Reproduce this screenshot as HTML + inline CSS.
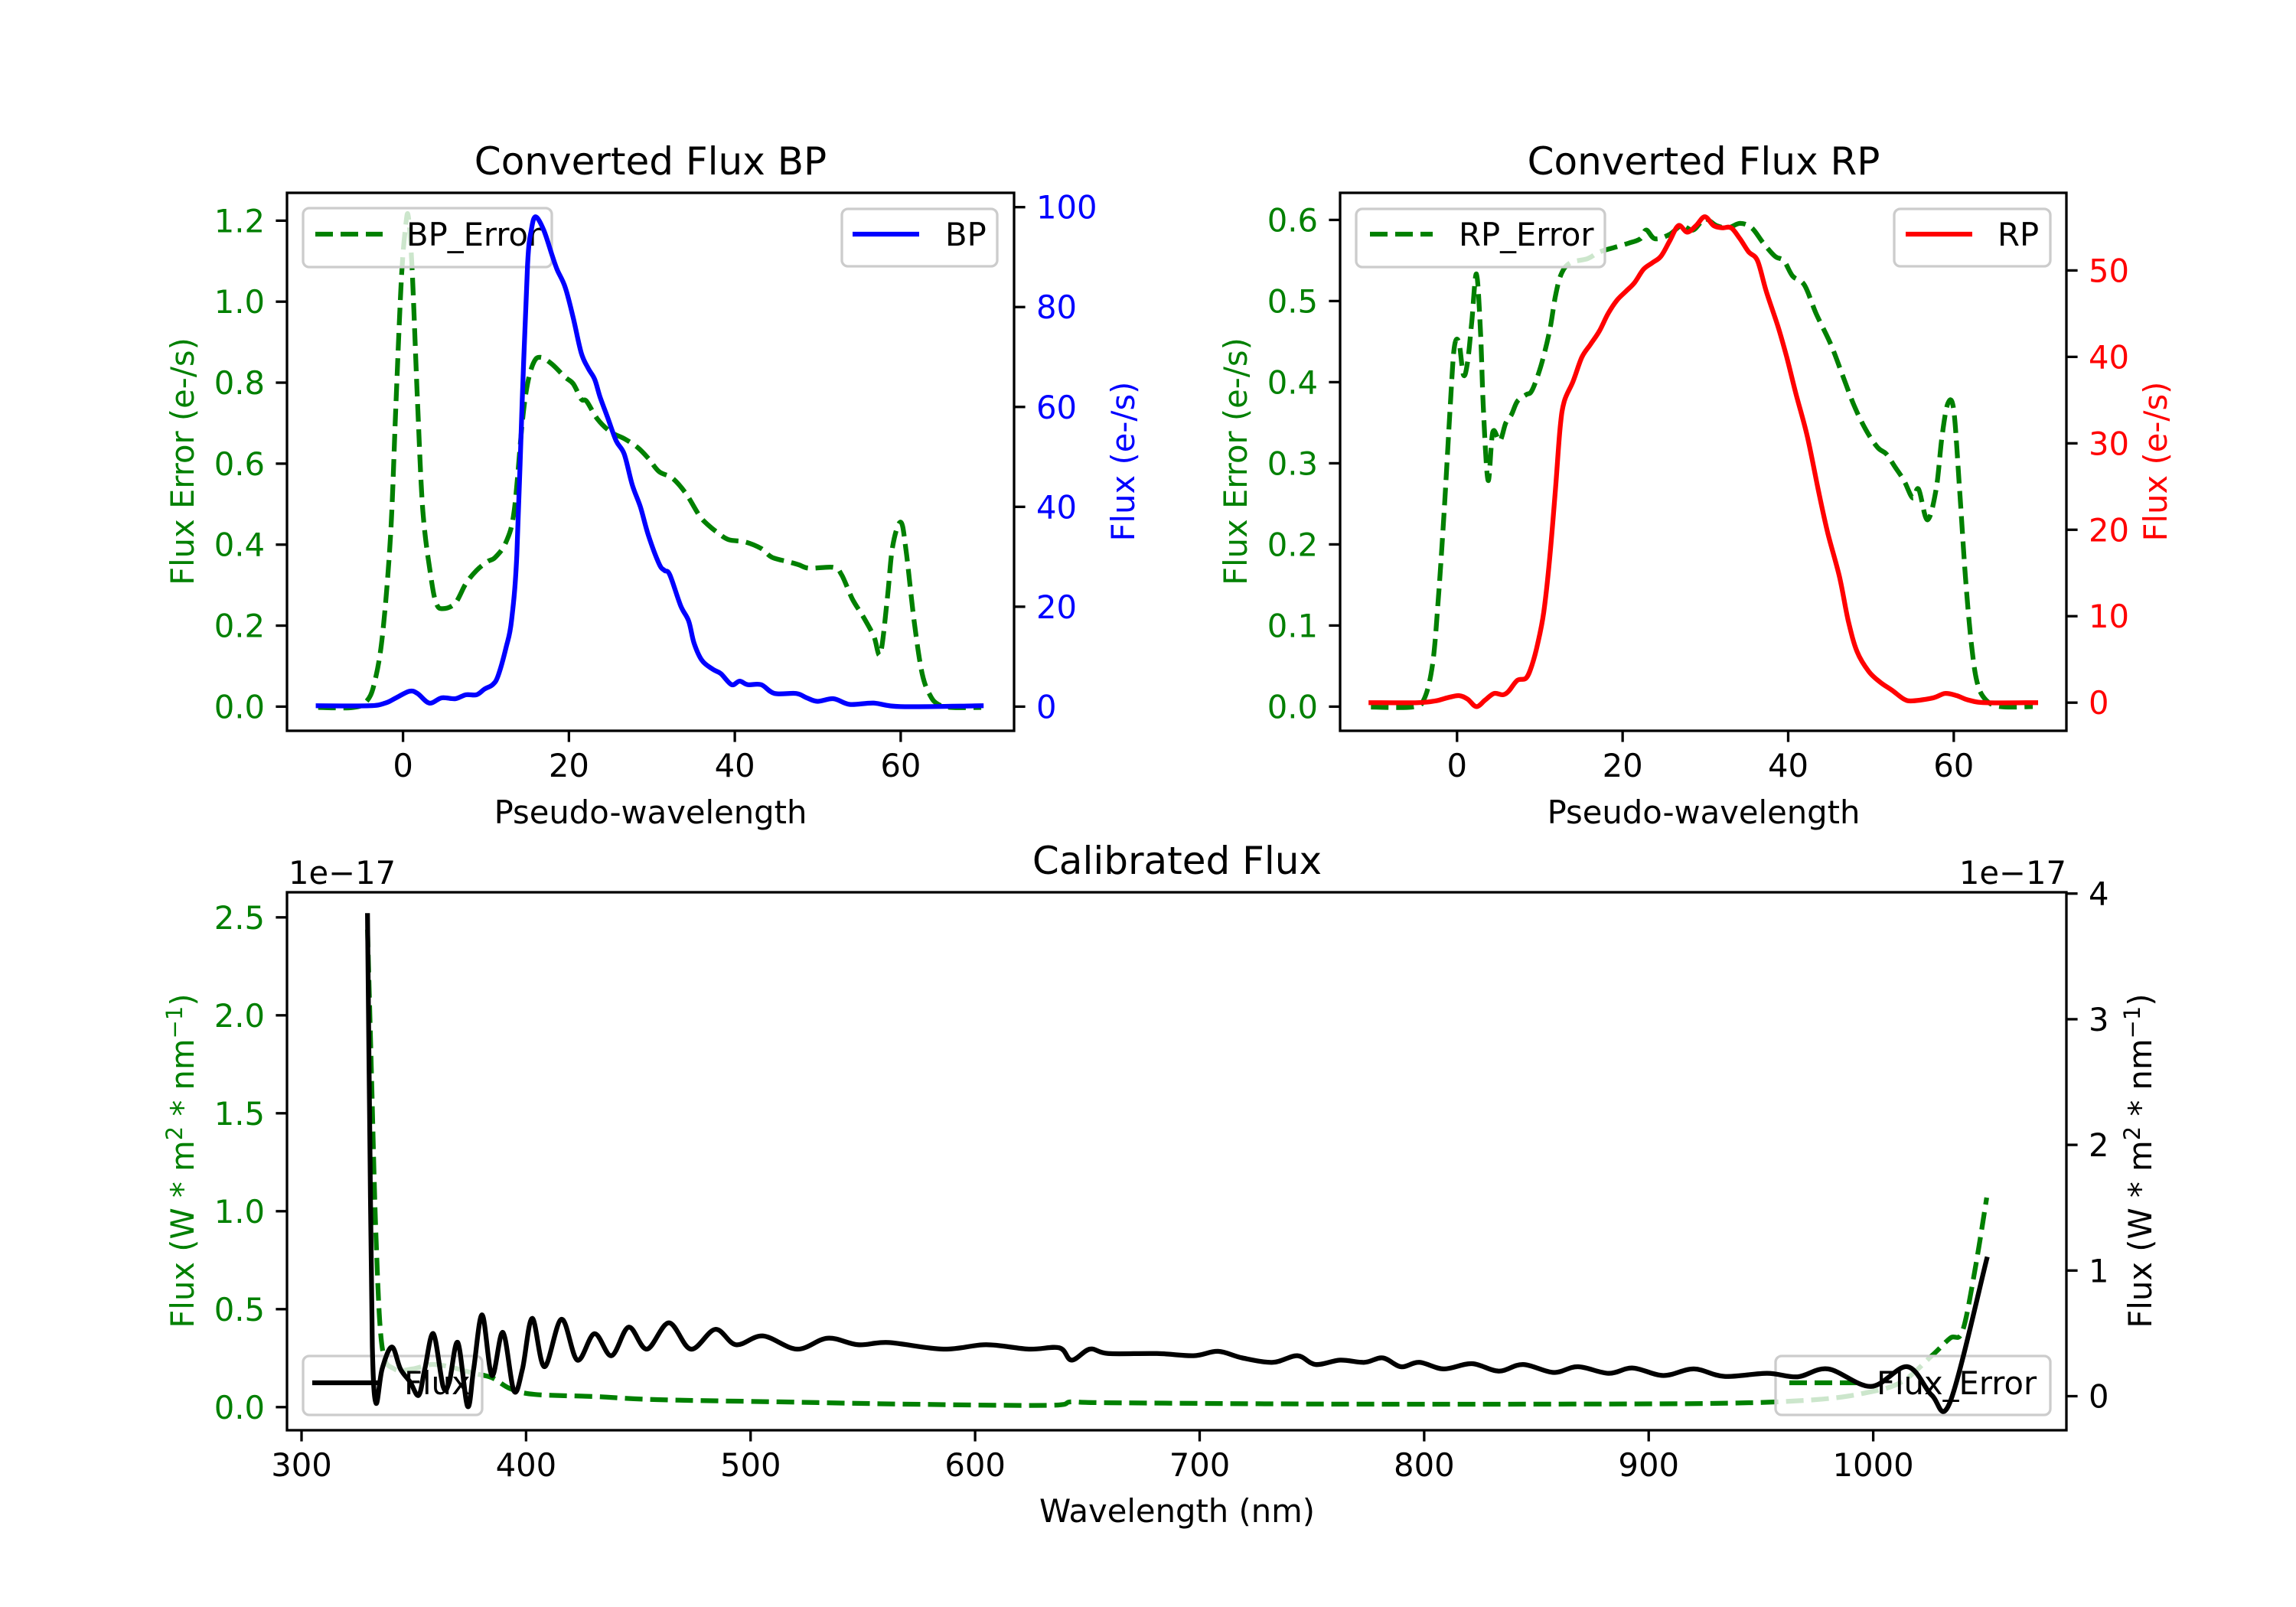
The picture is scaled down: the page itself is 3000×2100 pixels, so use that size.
<!DOCTYPE html>
<html><head><meta charset="utf-8">
<style>
html,body{margin:0;padding:0;background:#fff;}
svg{display:block;}
text{font-family:"DejaVu Sans","Liberation Sans",sans-serif;}
</style></head>
<body>
<svg id="s" width="3000" height="2100" viewBox="0 0 3000 2100" xmlns="http://www.w3.org/2000/svg"></svg>
<script>
const S=document.getElementById('s');
let out='';
function P(pts,fx,fy){
 const q=pts.map(p=>[fx(p[0]),fy(p[1])]);
 let d='M'+q[0][0].toFixed(1)+' '+q[0][1].toFixed(1);
 for(let i=0;i<q.length-1;i++){
  const p0=q[Math.max(0,i-1)],p1=q[i],p2=q[i+1],p3=q[Math.min(q.length-1,i+2)];
  const t=6;
  const c1=[p1[0]+(p2[0]-p0[0])/t,p1[1]+(p2[1]-p0[1])/t];
  const c2=[p2[0]-(p3[0]-p1[0])/t,p2[1]-(p3[1]-p1[1])/t];
  d+=` C${c1[0].toFixed(1)} ${c1[1].toFixed(1)} ${c2[0].toFixed(1)} ${c2[1].toFixed(1)} ${p2[0].toFixed(1)} ${p2[1].toFixed(1)}`;
 }
 return d;
}
function line(d,col,dash){out+=`<path d="${d}" fill="none" stroke="${col}" stroke-width="6.25" stroke-linejoin="round" stroke-linecap="${dash?'butt':'square'}" ${dash?'stroke-dasharray="23 10"':''}/>`;}
function txt(x,y,s,col,size,anchor,extra){out+=`<text x="${x}" y="${y}" fill="${col}" font-size="${size}" text-anchor="${anchor||'start'}" ${extra||''}>${s}</text>`;}
function legend(x1,y1,x2,y2,l1,l2,ly,col,dash,tx,label){
 out+=`<rect x="${x1}" y="${y1}" width="${x2-x1}" height="${y2-y1}" rx="8" fill="rgba(255,255,255,0.8)" stroke="#cccccc" stroke-width="3.3"/>`;
 out+=`<path d="M${l1} ${ly} L${l2} ${ly}" fill="none" stroke="${col}" stroke-width="6.25" ${dash?'stroke-dasharray="23 10"':''}/>`;
 txt(tx,ly+15,label,'#000',41.7);
}
function ticksX(vals,fx,yb,lab){vals.forEach(v=>{const x=fx(v);out+=`<line x1="${x}" y1="${yb}" x2="${x}" y2="${yb+14.6}" stroke="#000" stroke-width="3.3"/>`;txt(x,yb+60,lab(v),'#000',41.7,'middle');});}
function ticksY(vals,fy,x,side,col,lab){vals.forEach(v=>{const y=fy(v);const x2=side<0?x-14.6:x+14.6;out+=`<line x1="${x}" y1="${y}" x2="${x2}" y2="${y}" stroke="#000" stroke-width="3.3"/>`;txt(side<0?x-29:x+29,y+15,lab(v),col,41.7,side<0?'end':'start');});}
function frame(l,t,r,b){out+=`<rect x="${l}" y="${t}" width="${r-l}" height="${b-t}" fill="none" stroke="#000" stroke-width="3.3"/>`;}
function rl(x,y,s,col){out+=`<text x="${x}" y="${y}" fill="${col}" font-size="41.7" text-anchor="middle" transform="rotate(-90 ${x} ${y})">${s}</text>`;}

out+=`<defs><clipPath id="c1"><rect x="375" y="252" width="950" height="703"/></clipPath><clipPath id="c2"><rect x="1751" y="252" width="949" height="703"/></clipPath><clipPath id="c3"><rect x="375" y="1166" width="2325" height="703"/></clipPath></defs>`;
// ===== BP =====
{const fx=z=>300+z/1.4255, fy=z=>180+z/1.742;
const L=375,R=1325,T=252,B=955;
const g=[[165,1297],[230,1297],[255,1283],[270,1240],[285,1130],[300,900],[310,600],[320,320],[328,200],[333,180],[340,300],[350,600],[360,850],[375,1000],[385,1060],[397,1072],[420,1060],[440,1015],[460,985],[480,965],[495,955],[515,920],[530,850],[545,650],[555,560],[567,510],[580,500],[600,515],[625,545],[640,560],[655,595],[665,600],[685,640],[710,670],[735,685],[760,705],[780,730],[800,760],[825,775],[850,810],[875,860],[890,880],[910,900],[930,915],[960,920],[990,935],[1010,955],[1040,965],[1060,972],[1080,980],[1125,978],[1140,995],[1160,1050],[1180,1090],[1200,1135],[1212,1175],[1225,1050],[1235,930],[1250,875],[1260,940],[1275,1100],[1290,1220],[1305,1270],[1320,1290],[1345,1297],[1400,1297]];
const b=[[165,1293],[260,1293],[290,1287],[310,1275],[335,1260],[350,1265],[372,1287],[395,1275],[420,1277],[440,1268],[460,1268],[475,1255],[490,1245],[500,1225],[515,1160],[525,1100],[535,950],[545,600],[555,290],[562,210],[570,180],[585,210],[600,265],[610,300],[625,340],[640,410],[655,490],[668,525],[680,550],[690,590],[705,640],[720,690],[735,720],[750,790],[765,840],[780,905],[800,970],[810,985],[820,995],[840,1065],[855,1100],[865,1150],[880,1190],[900,1210],[915,1220],[935,1245],[950,1237],[965,1245],[990,1245],[1015,1265],[1055,1265],[1075,1275],[1095,1283],[1125,1277],[1155,1290],[1200,1287],[1250,1295],[1400,1293]];
out+=`<g clip-path="url(#c1)">`;line(P(g,fx,fy),'#008000',1);out+=`</g>`;
legend(396,272,721,349,412,500,306,'#008000',1,531,'BP_Error');
out+=`<g clip-path="url(#c1)">`;line(P(b,fx,fy),'#0000ff',0);out+=`</g>`;
legend(1100,273,1303,348,1114,1201,306,'#0000ff',0,1235,'BP');
frame(L,T,R,B);
ticksX([0,20,40,60],v=>526.6+10.838*v,B,v=>v);
ticksY([0,0.2,0.4,0.6,0.8,1.0,1.2],v=>923.4-529.2*v,L,-1,'#008000',v=>v.toFixed(1));
ticksY([0,20,40,60,80,100],v=>923.4-6.527*v,R,1,'#0000ff',v=>v);
txt(850,228,'Converted Flux BP','#000',50,'middle');
txt(850,1076,'Pseudo-wavelength','#000',41.7,'middle');
rl(253,603,'Flux Error (e-/s)','#008000');
rl(1482,603,'Flux (e-/s)','#0000ff');
}
// ===== RP =====
{const fx=z=>1600+z/1.3067, fy=z=>180+z/1.742;
const L=1751,R=2700,T=252,B=955;
const g=[[250,1296],[320,1296],[340,1280],[355,1200],[365,1050],[375,850],[385,620],[392,480],[400,465],[408,540],[415,510],[422,420],[430,310],[437,440],[442,620],[450,780],[458,670],[470,690],[480,650],[490,630],[500,600],[515,585],[525,575],[540,520],[555,440],[565,360],[575,310],[590,285],[620,275],[640,260],[665,250],[690,240],[710,230],[720,210],[735,230],[760,220],[780,200],[800,210],[820,185],[840,200],[860,205],[880,195],[900,205],[920,240],[940,270],[955,280],[970,315],[990,335],[1010,400],[1035,470],[1055,540],[1075,610],[1095,665],[1115,705],[1130,720],[1145,750],[1160,780],[1175,820],[1185,800],[1200,870],[1215,800],[1225,680],[1235,605],[1245,620],[1255,800],[1265,1000],[1275,1150],[1285,1240],[1300,1280],[1325,1295],[1380,1295]];
const r=[[250,1286],[330,1286],[360,1282],[380,1275],[400,1270],[415,1278],[430,1295],[445,1280],[460,1265],[475,1268],[485,1260],[500,1235],[515,1230],[525,1200],[535,1150],[545,1080],[555,960],[565,800],[573,660],[580,600],[595,555],[610,500],[625,470],[640,440],[655,400],[670,370],[685,350],[700,330],[715,300],[730,285],[745,270],[760,235],[775,200],[790,215],[805,200],[820,180],[835,200],[850,205],[865,205],[880,230],[895,260],[910,280],[925,350],[945,430],[960,500],[975,580],[995,680],[1015,810],[1030,900],[1050,1000],[1065,1100],[1080,1170],[1100,1215],[1120,1240],[1140,1258],[1160,1278],[1175,1282],[1210,1275],[1230,1265],[1250,1270],[1270,1280],[1300,1286],[1385,1286]];
out+=`<g clip-path="url(#c2)">`;line(P(g,fx,fy),'#008000',1);out+=`</g>`;
legend(1772,273,2097,349,1790,1872,306,'#008000',1,1906,'RP_Error');
out+=`<g clip-path="url(#c2)">`;line(P(r,fx,fy),'#ff0000',0);out+=`</g>`;
legend(2475,273,2679,348,2490,2577,306,'#ff0000',0,2610,'RP');
frame(L,T,R,B);
ticksX([0,20,40,60],v=>1903.8+10.817*v,B,v=>v);
ticksY([0,0.1,0.2,0.3,0.4,0.5,0.6],v=>923.4-1060*v,L,-1,'#008000',v=>v.toFixed(1));
ticksY([0,10,20,30,40,50],v=>918.2-11.296*v,R,1,'#ff0000',v=>v);
txt(2226,228,'Converted Flux RP','#000',50,'middle');
txt(2226,1076,'Pseudo-wavelength','#000',41.7,'middle');
rl(1629,603,'Flux Error (e-/s)','#008000');
rl(2831,603,'Flux (e-/s)','#ff0000');
}
// ===== Calibrated =====
{const fx=z=>300+z/0.6272, fy=z=>1100+z/1.742;
const L=375,R=2700,T=1166,B=1869;
const g=[[113,200],[116,500],[120,900],[125,1150],[135,1200],[150,1200],[165,1190],[180,1195],[200,1210],[215,1220],[230,1245],[250,1258],[300,1263],[350,1270],[450,1275],[550,1280],[670,1283],[690,1275],[720,1277],[900,1280],[1100,1280],[1230,1278],[1300,1270],[1340,1255],[1370,1230],[1395,1170],[1410,1130],[1420,1115],[1430,980],[1440,810]];
const k=[[113,168],[115,700],[117,1150],[120,1278],[125,1200],[133,1150],[140,1200],[148,1230],[155,1260],[160,1200],[167,1120],[175,1240],[180,1230],[187,1140],[195,1285],[200,1200],[207,1077],[215,1215],[224,1117],[233,1250],[240,1200],[248,1085],[258,1195],[272,1087],[285,1180],[299,1120],[313,1170],[327,1105],[342,1155],[360,1095],[378,1155],[398,1110],[415,1145],[437,1125],[465,1155],[490,1130],[515,1145],[540,1140],[585,1155],[620,1145],[655,1155],[680,1152],[690,1180],[705,1155],[720,1165],[760,1165],[790,1170],[810,1160],[830,1175],[855,1185],[875,1170],[890,1190],[910,1180],[930,1185],[945,1175],[960,1195],[975,1185],[995,1200],[1018,1188],[1040,1205],[1060,1190],[1085,1208],[1105,1195],[1130,1210],[1150,1198],[1175,1215],[1200,1200],[1225,1217],[1260,1210],[1285,1218],[1310,1200],[1345,1240],[1375,1195],[1395,1260],[1410,1275],[1440,950]];
out+=`<g clip-path="url(#c3)">`;line(P(g,fx,fy),'#008000',1);out+=`</g>`;
legend(396,1772,630,1849,408,499,1807,'#000',0,528,'Flux');
legend(2320,1772,2679,1849,2338,2428,1807,'#008000',1,2452,'Flux_Error');
out+=`<g clip-path="url(#c3)">`;line(P(k,fx,fy),'#000',0);out+=`</g>`;
frame(L,T,R,B);
ticksX([300,400,500,600,700,800,900,1000],v=>394+2.9337*(v-300),B,v=>v);
ticksY([0,0.5,1.0,1.5,2.0,2.5],v=>1838.8-256*v,L,-1,'#008000',v=>v.toFixed(1));
ticksY([0,1,2,3,4],v=>1824.5-164.2*v,R,1,'#000',v=>v);
txt(1538,1142,'Calibrated Flux','#000',50,'middle');
txt(1538,1989,'Wavelength (nm)','#000',41.7,'middle');
txt(377,1155,'1e−17','#000',41.7,'start');
txt(2700,1155,'1e−17','#000',41.7,'end');
const lab='Flux (W * m<tspan dy="-15" font-size="29">2</tspan><tspan dy="15"> * nm</tspan><tspan dy="-15" font-size="29">−1</tspan><tspan dy="15">)</tspan>';
rl(253,1517,lab,'#008000');
rl(2811,1517,lab,'#000');
}
S.innerHTML=out;
</script>
</body></html>
